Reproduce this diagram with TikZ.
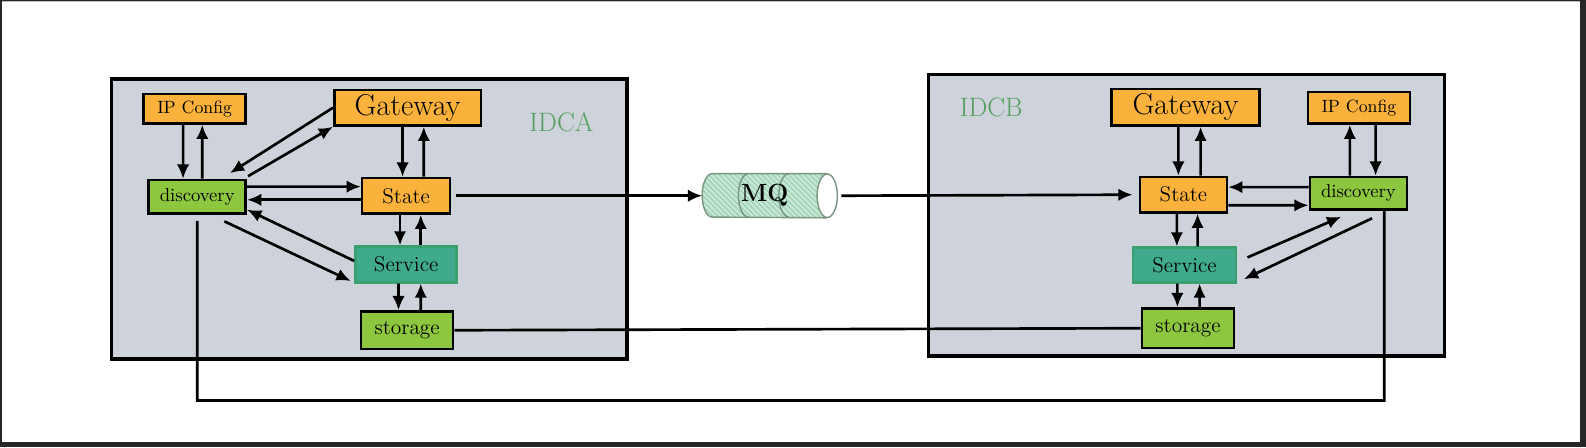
\documentclass[tikz,border=0pt]{standalone}
\usepackage{tikz}
\usetikzlibrary{arrows.meta,arrows}
\usetikzlibrary{patterns}
\tikzset{>={Latex[length=8pt,width=7pt]}}
\definecolor{oransj}{RGB}{250,178,60}
\definecolor{lime}{RGB}{141,198,63}
\definecolor{tjenestefarge}{RGB}{64,170,140}
\definecolor{tjenestekant}{RGB}{58,160,112}
\definecolor{idcgra}{RGB}{206,210,218}
\definecolor{idcgronn}{RGB}{84,160,96}
\definecolor{mqfyll}{RGB}{196,230,210}
\definecolor{mqstrek}{RGB}{140,200,165}
\definecolor{mqkant}{RGB}{120,150,130}

\begin{document}
\begin{tikzpicture}[x=0.02cm, y=-0.02cm,
    pil/.style={draw, ->, line width=1.5pt},
    linje/.style={draw, line width=1.5pt},
    punkt/.style={rectangle, draw=black, line width=1.5pt, inner sep=0pt,
      font=\fontsize{12}{14}\selectfont},
    gul/.style={punkt, fill=oransj},
    gron/.style={punkt, fill=lime},
    tjeneste/.style={punkt, fill=tjenestefarge, draw=tjenestekant},
    idc/.style={rectangle, draw=black, fill=idcgra, line width=1.8pt, inner sep=0pt},
    idctekst/.style={text=idcgronn, font=\fontsize{15}{17}\selectfont},
    ko/.style={mqkant, line width=0.8pt}
    ]
\useasboundingbox (0,0) rectangle (1568,442);
% frame of the screen
\fill[black!85] (0,0) rectangle (1568,442);
\fill[white] (2,1) rectangle (1562,437);
\fill[black!25] (2,1) rectangle (1562,2);

% the two data centres
\node[idc, minimum width=10.2cm, minimum height=5.54cm] (idcA) at (365,216.5) {};
\node[idc, minimum width=10.2cm, minimum height=5.56cm] (idcB) at (1173,213) {};
\node[idctekst] (navnA) at (555,121) {IDCA};
\node[idctekst] (navnB) at (980,106) {IDCB};

% IDCA
\node[gul, minimum width=2.02cm, minimum height=0.58cm, font=\fontsize{10}{12}\selectfont] (ipA) at (192.5,107.5) {IP Config};
\node[gul, minimum width=2.9cm, minimum height=0.7cm, font=\fontsize{17}{20}\selectfont] (gwA) at (403,106.5) {Gateway};
\node[gron, minimum width=1.92cm, minimum height=0.66cm, font=\fontsize{10.5}{12}\selectfont] (discA) at (195,194.5) {discovery};
\node[gul, minimum width=1.74cm, minimum height=0.7cm] (stA) at (401.5,193.5) {State};
\node[tjeneste, minimum width=2.0cm, minimum height=0.7cm] (svA) at (401.5,261.5) {Service};
\node[gron, minimum width=1.82cm, minimum height=0.74cm] (soA) at (402.5,326.5) {storage};

% IDCB
\node[gul, minimum width=2.92cm, minimum height=0.72cm, font=\fontsize{17}{20}\selectfont] (gwB) at (1172,106) {Gateway};
\node[gul, minimum width=2.02cm, minimum height=0.62cm, font=\fontsize{10}{12}\selectfont] (ipB) at (1343.5,106.5) {IP Config};
\node[gul, minimum width=1.72cm, minimum height=0.7cm] (stB) at (1170,192.5) {State};
\node[gron, minimum width=1.92cm, minimum height=0.64cm, font=\fontsize{10.5}{12}\selectfont] (discB) at (1343,191) {discovery};
\node[tjeneste, minimum width=2.04cm, minimum height=0.68cm] (svB) at (1171,262) {Service};
\node[gron, minimum width=1.82cm, minimum height=0.78cm] (soB) at (1174.5,324.5) {storage};

% message queue, drawn round an empty node
\node[minimum width=2.66cm, minimum height=0.86cm, inner sep=0pt] (mq) at (761,193.5) {};
\path[fill=mqfyll] ([xshift=-0.2cm]mq.north east) -- ([xshift=0.2cm]mq.north west)
  arc[start angle=90, end angle=270, x radius=0.2cm, y radius=0.43cm]
  -- ([xshift=-0.2cm]mq.south east) -- cycle;
\path[pattern=north west lines, pattern color=mqstrek] ([xshift=-0.2cm]mq.north east) -- ([xshift=0.2cm]mq.north west)
  arc[start angle=90, end angle=270, x radius=0.2cm, y radius=0.43cm]
  -- ([xshift=-0.2cm]mq.south east) -- cycle;
\draw[ko] ([xshift=-0.2cm]mq.north east) -- ([xshift=0.2cm]mq.north west)
  arc[start angle=90, end angle=270, x radius=0.2cm, y radius=0.43cm]
  -- ([xshift=-0.2cm]mq.south east);
\draw[ko, fill=white] ([xshift=-0.2cm]mq.east) ellipse[x radius=0.2cm, y radius=0.43cm];
\draw[ko] ([xshift=-0.42cm]mq.north) arc[start angle=90, end angle=270, x radius=0.2cm, y radius=0.43cm];
\draw[ko] ([xshift=0.38cm]mq.north) arc[start angle=90, end angle=270, x radius=0.2cm, y radius=0.43cm];
\node[font=\bfseries\fontsize{14}{16}\selectfont] (mqtekst) at ([xshift=-0.1cm]mq.center) {MQ};

% arrows inside IDCA
\draw[pil] ([xshift=-0.23cm]ipA.south) -- ([xshift=-0.28cm]discA.north);
\draw[pil] ([xshift=0.1cm]discA.north) -- ([xshift=0.15cm]ipA.south);
\draw[pil] (gwA.west) -- ([xshift=-0.34cm,yshift=0.11cm]discA.north east);
\draw[pil] ([xshift=0.02cm,yshift=0.05cm]discA.north east) -- (gwA.south west);
\draw[pil] ([xshift=-0.1cm]gwA.south) -- ([xshift=-0.07cm]stA.north);
\draw[pil] ([xshift=0.35cm]stA.north) -- ([xshift=0.32cm]gwA.south);
\draw[pil] ([yshift=0.2cm]discA.east) -- ([yshift=0.18cm]stA.west);
\draw[pil] ([yshift=-0.08cm]stA.west) -- ([yshift=-0.06cm]discA.east);
\draw[pil] ([xshift=-0.12cm]stA.south) -- ([xshift=-0.12cm]svA.north);
\draw[pil] ([xshift=0.29cm]svA.north) -- ([xshift=0.29cm]stA.south);
\draw[pil] ([xshift=-0.15cm]svA.south) -- ([xshift=-0.17cm]soA.north);
\draw[pil] ([xshift=0.27cm]soA.north) -- ([xshift=0.29cm]svA.south);
\draw[pil] ([xshift=-0.45cm,yshift=-0.13cm]discA.south east) -- ([xshift=-0.07cm,yshift=0.05cm]svA.south west);
\draw[pil] ([yshift=0.07cm]svA.west) -- ([yshift=0.1cm]discA.south east);

% arrows inside IDCB
\draw[pil] ([xshift=-0.14cm]gwB.south) -- ([xshift=-0.1cm]stB.north);
\draw[pil] ([xshift=0.34cm]stB.north) -- ([xshift=0.3cm]gwB.south);
\draw[pil] ([xshift=-0.17cm]discB.north) -- ([xshift=-0.18cm]ipB.south);
\draw[pil] ([xshift=0.33cm]ipB.south) -- ([xshift=0.34cm]discB.north);
\draw[pil] ([yshift=0.12cm]discB.west) -- ([yshift=0.15cm]stB.east);
\draw[pil] ([yshift=-0.21cm]stB.east) -- ([yshift=-0.24cm]discB.west);
\draw[pil] ([xshift=-0.13cm]stB.south) -- ([xshift=-0.15cm]svB.north);
\draw[pil] ([xshift=0.26cm]svB.north) -- ([xshift=0.28cm]stB.south);
\draw[pil] ([xshift=-0.14cm]svB.south) -- ([xshift=-0.21cm]soB.north);
\draw[pil] ([xshift=0.23cm]soB.north) -- ([xshift=0.3cm]svB.south);
\draw[pil] ([xshift=0.2cm,yshift=0.15cm]svB.east) -- ([xshift=-0.34cm,yshift=-0.12cm]discB.south);
\draw[pil] ([xshift=0.27cm,yshift=-0.15cm]discB.south) -- ([xshift=0.13cm,yshift=-0.28cm]svB.east);

% between the data centres
\draw[pil] ([xshift=0.1cm]stA.east) -- (mq.west);
\draw[pil, shorten >=0.12cm] ([xshift=0.08cm]mq.east) -- (stB.west);
\draw[linje] (soA.east) -- (soB.west);
\coordinate (bunn) at (1368.5,396);
\draw[linje] ([yshift=-0.12cm]discA.south) |- (bunn) -- ([xshift=0.51cm]discB.south);
\end{tikzpicture}
\end{document}
